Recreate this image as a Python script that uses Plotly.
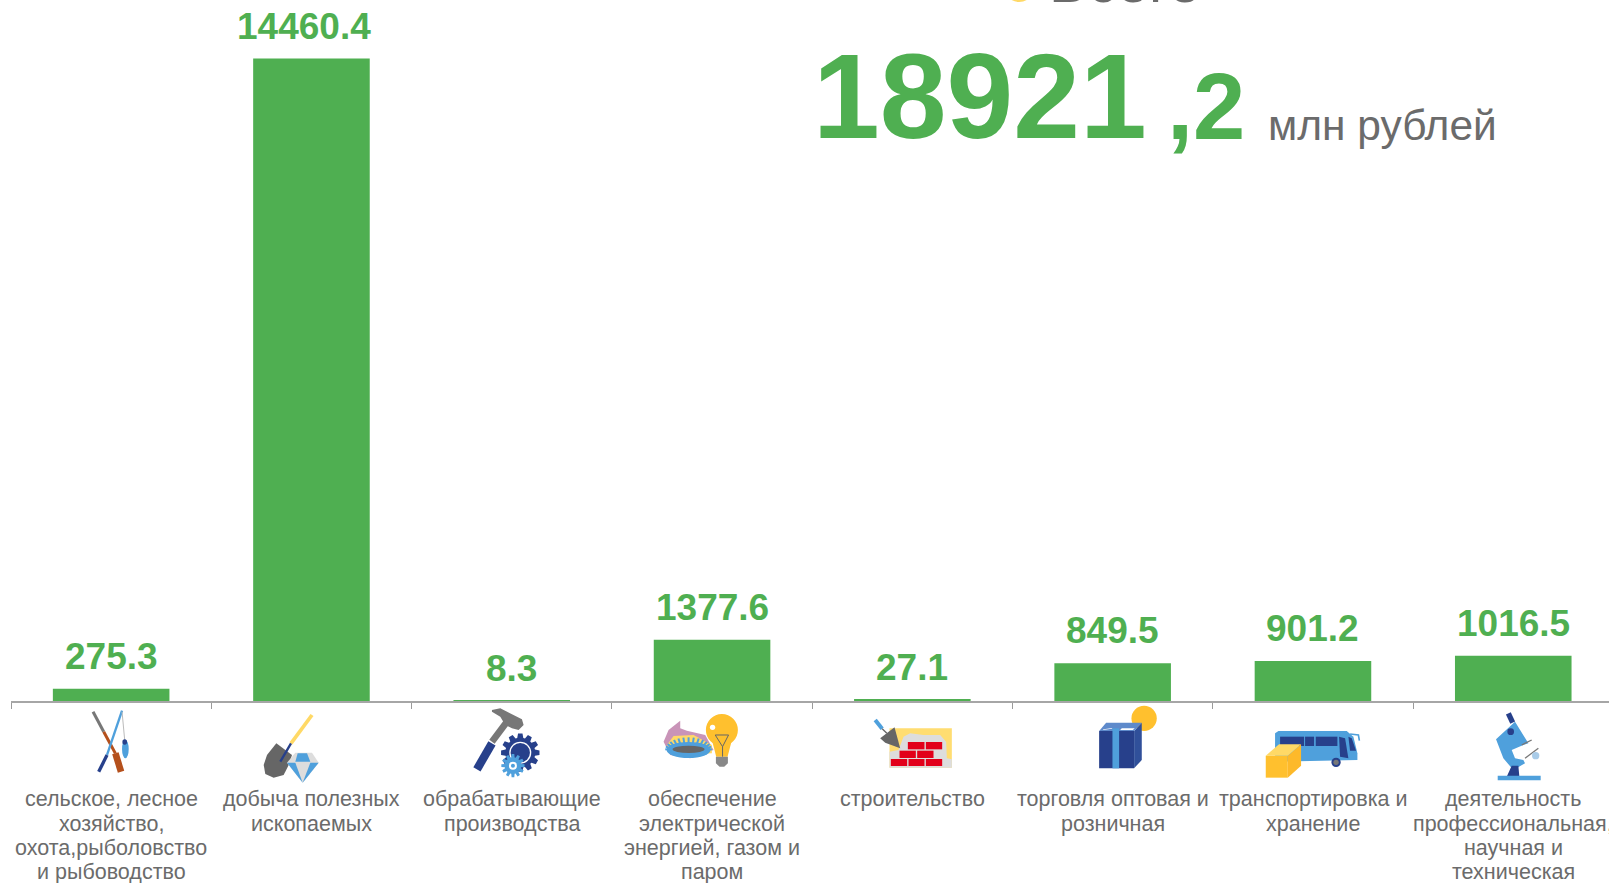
import math
import plotly.graph_objects as go

categories = [
    "сельское, лесное<br>хозяйство,<br>охота,рыболовство<br>и рыбоводство",
    "добыча полезных<br>ископаемых",
    "обрабатывающие<br>производства",
    "обеспечение<br>электрической<br>энергией, газом и<br>паром",
    "строительство",
    "торговля оптовая и<br>розничная",
    "транспортировка и<br>хранение",
    "деятельность<br>профессиональная,<br>научная и<br>техническая",
]
values = [275.3, 14460.4, 8.3, 1377.6, 27.1, 849.5, 901.2, 1016.5]

GREEN = "#4FAF51"
GRAY = "#6B6B6B"
FONT = "Liberation Sans"
NAVY, BLUE, YEL, GOLD, MID = "#27408B", "#4FA0DC", "#FFD966", "#FFC02E", "#666666"
W, H = 1609, 883
L, BASE = 10.6, 701


def fx(x):
    return (x - L) / (W - L)


def fy(y):
    return (BASE - y) / BASE


fig = go.Figure(go.Bar(x=categories, y=values, marker=dict(color=GREEN, line=dict(width=0)), width=0.582, hoverinfo="skip"))

ann = []
top = max(values)
for c, v in zip(categories, values):
    ann.append(dict(x=c, y=v, xref="x", yref="y", text=f"<b>{v}</b>", showarrow=False, yanchor="bottom",
                    yshift=10, xshift=-7 if v == top else 0, font=dict(family=FONT, size=37, color=GREEN)))
    for i, line in enumerate(c.split("<br>")):
        ann.append(dict(x=c, y=fy(799.5 + 24.2 * i), xref="x", yref="paper", text=line, showarrow=False, yanchor="middle",
                        font=dict(family=FONT, size=21.5, color=GRAY)))


def px(x, y, text, size, color, bold=False):
    ann.append(dict(x=fx(x), y=fy(y), xref="paper", yref="paper", xanchor="left", yanchor="middle",
                    text=f"<b>{text}</b>" if bold else text, showarrow=False, font=dict(family=FONT, size=size, color=color)))


px(811, 96, "18921", 120, GREEN, bold=True)
px(1165, 107, ",2", 94, GREEN, bold=True)
px(1266, 126, "млн рублей", 42.5, GRAY)
px(1047, -18, "Всего", 58, GRAY)

shapes = []
ox = 0


def P(x, y):
    return fx(ox + x / 3), fy(700 + y / 3)


def poly(pts, fill):
    d = "M " + " L ".join("%.5f,%.5f" % P(*p) for p in pts) + " Z"
    shapes.append(dict(type="path", path=d, xref="paper", yref="paper", fillcolor=fill, line=dict(width=0), layer="above"))


def seg(pts, color, w):
    d = "M " + " L ".join("%.5f,%.5f" % P(*p) for p in pts)
    shapes.append(dict(type="path", path=d, xref="paper", yref="paper", line=dict(color=color, width=w / 3), layer="above"))


def ell(cx, cy, rx, ry, fill):
    x0, y0 = P(cx - rx, cy - ry)
    x1, y1 = P(cx + rx, cy + ry)
    shapes.append(dict(type="circle", xref="paper", yref="paper", x0=x0, y0=y0, x1=x1, y1=y1,
                       fillcolor=fill, line=dict(width=0), layer="above"))


def gear(cx, cy, r0, r1, teeth, fill):
    pts = []
    for k in range(teeth):
        a = 2 * math.pi * k / teeth
        step = 2 * math.pi / teeth
        for da, r in ((-0.3, r0), (-0.17, r1), (0.17, r1), (0.3, r0)):
            t = a + da * step * 1.3
            pts.append((cx + r * math.cos(t), cy + r * math.sin(t)))
    poly(pts, fill)


# bullet beside the clipped heading
ox = 1019
ell(0, -2139, 45, 45, YEL)

# fishing and hunting
ox = 70
seg([(68, 35), (100, 95)], "#777777", 9)
seg([(100, 95), (135, 160)], "#B5501C", 9)
seg([(135, 160), (152, 215)], "#B5501C", 20)
seg([(155, 32), (110, 165)], BLUE, 7)
seg([(110, 165), (85, 215)], NAVY, 10)
seg([(155, 35), (163, 120)], "#BBBBBB", 3)
ell(165, 147, 10, 28, BLUE)
ell(163, 126, 7, 8, NAVY)

# shovel and diamond
seg([(725, 45), (662, 130)], YEL, 11)
poly([(618, 130), (665, 165), (655, 195), (640, 225), (610, 233), (585, 222), (580, 195), (590, 165)], MID)
seg([(662, 130), (630, 185)], NAVY, 7)
poly([(675, 158), (725, 158), (745, 188), (697, 248), (650, 188)], "#DDDDDD")
poly([(682, 160), (710, 160), (720, 185), (675, 185)], BLUE)
poly([(650, 188), (675, 188), (697, 248)], BLUE)
poly([(720, 188), (745, 188), (697, 248)], BLUE)

# hammer and gears
ox = 450
seg([(170, 65), (125, 125)], "#777777", 20)
seg([(125, 130), (80, 208)], NAVY, 25)
poly([(125, 30), (150, 25), (215, 58), (220, 75), (205, 90), (185, 85), (165, 75), (150, 50), (125, 35)], "#777777")
gear(210, 158, 45, 58, 12, NAVY)
ell(210, 158, 33, 33, "#FFFFFF")
ell(210, 158, 29, 29, NAVY)
gear(188, 197, 25, 35, 12, BLUE)
ell(188, 197, 12, 12, "#FFFFFF")
ell(188, 197, 6, 6, BLUE)

# gas burner and bulb
poly([(640, 125), (655, 90), (690, 62), (690, 85), (710, 92), (765, 105), (790, 150), (720, 175), (660, 165)], "#C994B8")
poly([(650, 135), (670, 108), (730, 105), (785, 135), (785, 160), (670, 165)], YEL)
for k in range(15):
    t = math.pi + math.pi * k / 14
    seg([(715 + 55 * math.cos(t), 148 + 14 * math.sin(t)), (715 + 70 * math.cos(t), 148 + 36 * math.sin(t))], BLUE, 6)
ell(715, 150, 66, 24, BLUE)
ell(715, 148, 48, 11, MID)
ell(815, 90, 48, 48, GOLD)
poly([(785, 120), (845, 120), (832, 170), (798, 170)], GOLD)
poly([(797, 170), (833, 170), (833, 190), (822, 200), (808, 200), (797, 190)], "#888888")
seg([(795, 105), (835, 105), (817, 140), (817, 170)], MID, 3)
seg([(795, 105), (817, 140)], MID, 3)
ell(787, 82, 8, 8, "#FFFFFF")

# trowel and bricks
ox = 860
poly([(88, 85), (275, 85), (275, 203), (88, 203)], "#FFDD71")
poly([(88, 203), (88, 155), (115, 150), (130, 110), (150, 100), (190, 105), (240, 105), (258, 125), (260, 175), (275, 178), (275, 203)], "#DDDDDD")
for x0, x1, y0, y1 in [(143, 193, 126, 148), (197, 246, 126, 148), (118, 167, 152, 174), (171, 220, 152, 174),
                       (92, 141, 177, 198), (145, 193, 177, 198), (197, 246, 177, 198)]:
    poly([(x0, y0), (x1, y0), (x1, y1), (x0, y1)], "#E2001A")
seg([(45, 60), (66, 86)], BLUE, 12)
seg([(66, 86), (80, 100)], MID, 4)
poly([(60, 115), (103, 82), (120, 145), (75, 128)], MID)

# box and coin
ell(852, 55, 38, 38, GOLD)
poly([(717, 93), (822, 93), (822, 205), (717, 205)], NAVY)
poly([(822, 93), (845, 68), (845, 180), (822, 205)], "#30509A")
poly([(717, 93), (738, 68), (845, 68), (822, 93)], "#5E8ACB")
poly([(757, 85), (777, 85), (777, 205), (757, 205)], BLUE)
poly([(728, 90), (755, 86), (757, 84), (730, 88)], "#FFFFFF")
poly([(780, 90), (818, 90), (824, 85), (785, 85)], "#FFFFFF")

# bus and parcel
ox = 1250
poly([(75, 100), (85, 93), (290, 93), (310, 110), (322, 160), (322, 180), (75, 185)], BLUE)
for x0, x1 in [(90, 162), (165, 192), (197, 262)]:
    poly([(x0, 110), (x1, 110), (x1, 138), (x0, 138)], NAVY)
poly([(267, 110), (285, 115), (295, 175), (270, 170)], NAVY)
poly([(295, 110), (305, 115), (318, 152), (300, 152)], NAVY)
seg([(300, 102), (325, 105), (328, 122)], BLUE, 5)
ell(258, 187, 14, 14, NAVY)
ell(258, 187, 8, 8, "#777777")
poly([(47, 167), (113, 167), (113, 233), (47, 233)], GOLD)
poly([(113, 167), (153, 133), (153, 197), (113, 233)], "#FDB92A")
poly([(47, 167), (87, 133), (153, 133), (113, 167)], YEL)

# microscope
poly([(738, 118), (795, 65), (835, 130), (820, 135), (785, 150), (795, 175), (820, 180), (825, 190), (790, 210), (760, 175)], BLUE)
seg([(775, 40), (788, 68)], NAVY, 16)
ell(782, 95, 10, 10, NAVY)
seg([(815, 135), (845, 120)], "#777777", 4)
seg([(825, 175), (865, 145)], "#777777", 4)
ell(857, 167, 11, 11, "#A8CBE8")
poly([(770, 230), (785, 197), (805, 197), (808, 230)], NAVY)
poly([(743, 227), (872, 227), (872, 241), (743, 241)], BLUE)

fig.update_layout(
    width=W, height=H, autosize=False,
    margin=dict(l=L, r=0, t=0, b=H - BASE, pad=0),
    paper_bgcolor="white", plot_bgcolor="white", showlegend=False, annotations=ann, shapes=shapes,
    xaxis=dict(type="category", range=[-0.5, 7.478], tickson="boundaries", ticks="outside", ticklen=6, tickwidth=1.2,
               tickcolor="#9a9a9a", showline=True, linecolor="#a6a6a6", linewidth=1.5, showgrid=False,
               showticklabels=False, automargin=False),
    yaxis=dict(range=[0, 15777], visible=False, showgrid=False, zeroline=False),
)
fig.write_html("out.html", config={"displayModeBar": False},
               post_script="document.body.style.margin='0';document.body.style.overflow='hidden';")
